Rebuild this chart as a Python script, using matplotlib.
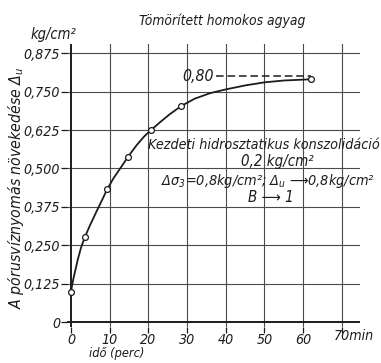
import matplotlib
matplotlib.use("Agg")
import matplotlib.pyplot as plt
from matplotlib import font_manager as fm

# pick a narrow lettering face that is available
_faces = fm.fontManager.ttflist
_names = {f.name for f in _faces}
if "Liberation Sans Narrow" in _names:
    FONT, STRETCH, K = "Liberation Sans Narrow", "normal", 1.12
elif any(f.name == "DejaVu Sans" and f.stretch in ("condensed", "semi-condensed")
         for f in _faces):
    FONT, STRETCH, K = "DejaVu Sans", "condensed", 1.0
else:
    FONT, STRETCH, K = "Roboto", "normal", 1.0

plt.rcParams["font.family"] = [FONT, "DejaVu Sans"]
plt.rcParams["font.style"] = "italic"
plt.rcParams["font.stretch"] = STRETCH
plt.rcParams["mathtext.fontset"] = "custom"
plt.rcParams["mathtext.rm"] = FONT + ":italic"
plt.rcParams["mathtext.it"] = FONT + ":italic"

# measured points (time in minutes, pore pressure increase in kg/cm²)
t_points = [0, 3.6, 9.4, 14.7, 20.7, 28.5, 62]
u_points = [0.098, 0.277, 0.433, 0.537, 0.625, 0.703, 0.79]

# fitted curve
t_curve = [0, 0.3, 0.7, 1.2, 1.8, 2.6, 3.6, 5.0, 6.5, 8.0, 9.4, 11.0, 13.0,
           14.7, 17.0, 19.0, 20.7, 23.0, 25.5, 28.5, 32.0, 36.0, 40.0, 45.0,
           50.0, 55.0, 62.0]
u_curve = [0.098, 0.12, 0.145, 0.172, 0.205, 0.242, 0.277, 0.317, 0.357, 0.396,
           0.433, 0.468, 0.505, 0.537, 0.576, 0.605, 0.625, 0.65, 0.676, 0.703,
           0.727, 0.745, 0.757, 0.77, 0.78, 0.786, 0.79]

x_ticks = [0, 10, 20, 30, 40, 50, 60, 70]
x_tick_labels = ["0", "10", "20", "30", "40", "50", "60", ""]
y_ticks = [0, 0.125, 0.250, 0.375, 0.500, 0.625, 0.750, 0.875]
y_tick_labels = ["0", "0,125", "0,250", "0,375", "0,500", "0,625", "0,750", "0,875"]
final_value = 0.80

INK = "#1c1c1c"
GRID = "#4a4a4a"

fig = plt.figure(figsize=(3.81, 3.63), dpi=100)
ax = fig.add_axes([0.176, 0.099, 0.769, 0.780])
ax.set_xlim(-1.0, 74.7)
ax.set_ylim(-0.016, 0.905)
for s in ax.spines.values():
    s.set_visible(False)

# grid
for xv in x_ticks[1:]:
    ax.axvline(xv, color=GRID, lw=0.8, zorder=1)
for yv in y_ticks[1:]:
    ax.axhline(yv, color=GRID, lw=0.8, zorder=1)
# axis lines
ax.axvline(0, color=INK, lw=1.4, zorder=2)
ax.axhline(0, color=INK, lw=1.4, zorder=2)

TICK_FS = 10.2 * K
ax.set_xticks(x_ticks)
ax.set_xticklabels(x_tick_labels, fontsize=TICK_FS)
ax.set_yticks(y_ticks)
ax.set_yticklabels(y_tick_labels, fontsize=TICK_FS)
ax.tick_params(axis="both", direction="out", length=4, width=0.9, colors=INK, pad=1)
ax.tick_params(axis="x", pad=0)

ax.text(67.8, -0.045, "70min", fontsize=TICK_FS, color=INK, ha="left", va="center")

# curve and measured points
ax.plot(t_curve, u_curve, color=INK, lw=1.3, zorder=3)
ax.plot(t_points, u_points, linestyle="none", marker="o", ms=4.2,
        mfc="white", mec=INK, mew=0.9, zorder=4)

# final value marker line
ax.plot([37.4, t_points[-1]], [final_value, final_value], color=INK, lw=1.1,
        dashes=(5, 2.5), zorder=3)
ax.text(36.9, final_value, "0,80", fontsize=11.3 * K, color=INK,
        ha="right", va="center")

# labels
fig.text(0.583, 0.942, "Tömörített homokos agyag", fontsize=9.9 * K, color=INK,
         ha="center", va="center")
fig.text(0.139, 0.904, "kg/cm²", fontsize=10.5 * K, color=INK, ha="center",
         va="center")
fig.text(0.043, 0.482, r"A pórusvíznyomás növekedése $\Delta_u$",
         fontsize=11.3 * K, color=INK, rotation=90, ha="center", va="center")
fig.text(0.307, 0.026, "idő (perc)", fontsize=9.2 * K, color=INK, ha="center",
         va="center")

# test conditions
fig.text(0.693, 0.600, "Kezdeti hidrosztatikus konszolidáció", fontsize=10.3 * K,
         color=INK, ha="center", va="center")
fig.text(0.727, 0.554, "0,2 kg/cm²", fontsize=10.8 * K, color=INK, ha="center",
         va="center")
fig.text(0.703, 0.501, r"$\Delta\sigma_3$=0,8kg/cm²; $\Delta_u$ ⟶0,8kg/cm²",
         fontsize=10.4 * K, color=INK, ha="center", va="center")
fig.text(0.71, 0.457, "B ⟶ 1", fontsize=10.8 * K, color=INK, ha="center",
         va="center")

fig.savefig("out.png", dpi=100, facecolor="white")
